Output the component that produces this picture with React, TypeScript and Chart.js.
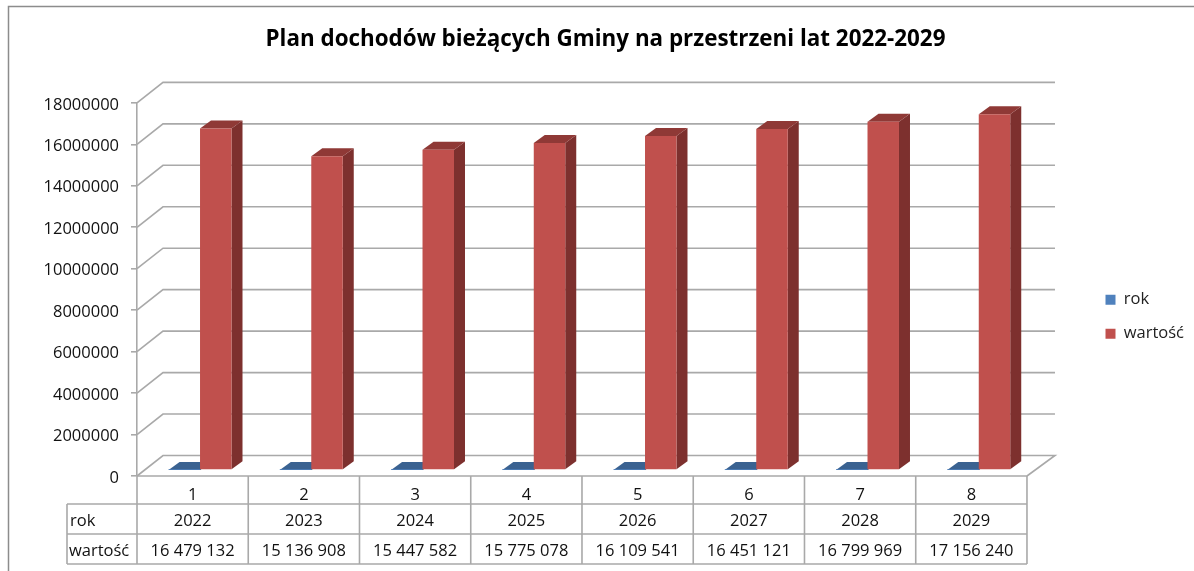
import React, { useEffect, useRef } from "react";
import { Chart, registerables } from "chart.js";

Chart.register(...registerables);

const categories = ["1", "2", "3", "4", "5", "6", "7", "8"];
const rokValues = [2022, 2023, 2024, 2025, 2026, 2027, 2028, 2029];
const wartoscValues = [16479132, 15136908, 15447582, 15775078, 16109541, 16451121, 16799969, 17156240];
const seriesNames = ["rok", "wartość"];
const titleText = "Plan dochodów bieżących Gminy na przestrzeni lat 2022-2029";

const FONT = "'Open Sans'";
const GRID = "#A9A9A9";

const fmt = (v: number) => String(v).replace(/\B(?=(\d{3})+$)/g, " ");

const box3d = {
  id: "box3d",
  beforeDatasetsDraw(chart: any) {
    const { ctx, chartArea: a, scales } = chart;
    const y = scales.y;
    const x = scales.x;
    ctx.save();
    ctx.strokeStyle = GRID;
    ctx.lineWidth = 1.6;
    for (const t of y.ticks) {
      const py = y.getPixelForValue(t.value);
      ctx.beginPath();
      ctx.moveTo(a.left, py);
      ctx.lineTo(a.left + 26, py - 20.5);
      ctx.lineTo(a.right + 28, py - 20.5);
      if (t.value === 0) ctx.lineTo(a.right, py);
      ctx.stroke();
    }
    // table
    const rows = [a.bottom, 504, 534, 564];
    const lx = 67;
    ctx.beginPath();
    ctx.moveTo(a.left, rows[0]);
    ctx.lineTo(a.right, rows[0]);
    for (let i = 1; i < rows.length; i++) {
      ctx.moveTo(lx, rows[i]);
      ctx.lineTo(a.right, rows[i]);
    }
    const cw = (a.right - a.left) / categories.length;
    for (let i = 0; i <= categories.length; i++) {
      ctx.moveTo(a.left + i * cw, rows[0]);
      ctx.lineTo(a.left + i * cw, rows[3]);
    }
    ctx.moveTo(lx, rows[1]);
    ctx.lineTo(lx, rows[3]);
    ctx.stroke();
    ctx.fillStyle = "#111";
    ctx.font = `16.5px ${FONT}`;
    ctx.textBaseline = "middle";
    ctx.textAlign = "left";
    ctx.fillText(seriesNames[0], 70, 521);
    ctx.fillText(seriesNames[1], 69, 551);
    ctx.textAlign = "center";
    categories.forEach((_, i) => {
      const cx = x.getPixelForTick(i);
      ctx.fillText(String(rokValues[i]), cx, 521);
      ctx.fillText(fmt(wartoscValues[i]), cx, 551);
    });
    // bar depth faces
    const dx = 11;
    const dy = -8;
    const faces = [
      { top: "#3A6291", side: "#2F4F77" },
      { top: "#8F3936", side: "#7D302E" },
    ];
    chart.data.datasets.forEach((_: any, di: number) => {
      chart.getDatasetMeta(di).data.forEach((b: any) => {
        const l = b.x - b.width / 2 + 7.4;
        const r = b.x + b.width / 2 + 7.4;
        const t = b.y - 6;
        const bt = b.base - 6;
        ctx.fillStyle = faces[di].side;
        ctx.beginPath();
        ctx.moveTo(r, t);
        ctx.lineTo(r + dx, t + dy);
        ctx.lineTo(r + dx, bt + dy);
        ctx.lineTo(r, bt);
        ctx.closePath();
        ctx.fill();
        ctx.fillStyle = faces[di].top;
        ctx.beginPath();
        ctx.moveTo(l, t);
        ctx.lineTo(l + dx, t + dy);
        ctx.lineTo(r + dx, t + dy);
        ctx.lineTo(r, t);
        ctx.closePath();
        ctx.fill();
      });
    });
    ctx.restore();
    ctx.save();
    ctx.translate(7.4, -6);
  },
  afterDatasetsDraw(chart: any) {
    chart.ctx.restore();
  },
};

const placeBoxes = {
  id: "placeBoxes",
  afterLayout(chart: any) {
    const lg = chart.legend;
    const lw = lg.right - lg.left;
    const lh = lg.bottom - lg.top;
    lg.left = 1088;
    lg.right = 1088 + lw;
    lg.top = 274;
    lg.bottom = 274 + lh;
    const t = chart.titleBlock;
    t.left += 39;
    t.right += 39;
  },
};

const frame = {
  id: "frame",
  beforeDraw(chart: any) {
    const { ctx } = chart;
    ctx.save();
    ctx.fillStyle = "#fff";
    ctx.fillRect(0, 0, 1194, 571);
    ctx.strokeStyle = "#8C8C8C";
    ctx.lineWidth = 1.5;
    ctx.beginPath();
    ctx.moveTo(8.5, 571);
    ctx.lineTo(8.5, 6.5);
    ctx.lineTo(1194, 6.5);
    ctx.stroke();
    ctx.restore();
  },
};

export default function App() {
  const ref = useRef<HTMLCanvasElement>(null);
  useEffect(() => {
    const chart = new Chart(ref.current!, {
      type: "bar",
      data: {
        labels: categories,
        datasets: [
          { label: seriesNames[0], data: rokValues, backgroundColor: "#4F81BD" },
          { label: seriesNames[1], data: wartoscValues, backgroundColor: "#C0504D" },
        ],
      },
      plugins: [frame, box3d, placeBoxes],
      options: {
        responsive: false,
        animation: false,
        layout: { padding: { right: 61, left: 0, top: 0, bottom: 0 } },
        datasets: { bar: { barPercentage: 1, categoryPercentage: 0.566 } },
        plugins: {
          tooltip: { enabled: false },
          title: {
            display: true,
            text: titleText,
            color: "#000",
            font: { family: FONT, size: 22.4, weight: "bold" },
            padding: { top: 26, bottom: 50 },
          },
          legend: {
            position: "right",
            align: "start",
            labels: {
              boxWidth: 10,
              boxHeight: 10,
              padding: 17.5,
              color: "#222",
              font: { family: FONT, size: 16.5 },
            },
          },
        },
        scales: {
          x: {
            afterFit(s: any) { s.height = 95; },
            grid: { display: false, drawTicks: false },
            border: { display: false },
            ticks: { color: "#111", font: { family: FONT, size: 16.5 }, padding: 9, maxRotation: 0 },
          },
          y: {
            min: 0,
            max: 18000000,
            afterFit(s: any) { s.width = 137; },
            grid: { drawOnChartArea: false, color: GRID, lineWidth: 1.6, tickLength: 6 },
            border: { color: GRID, width: 1.6 },
            ticks: { stepSize: 2000000, color: "#111", padding: 12, labelOffset: 2, font: { family: FONT, size: 16.5 }, callback: (v: any) => String(v) },
          },
        },
      },
    } as any);
    return () => chart.destroy();
  }, []);
  return (
    <div style={{ position: "fixed", left: 0, top: 0, width: 1194, height: 571, background: "#fff" }}>
      <canvas ref={ref} width={1194} height={571} style={{ display: "block" }} />
    </div>
  );
}
